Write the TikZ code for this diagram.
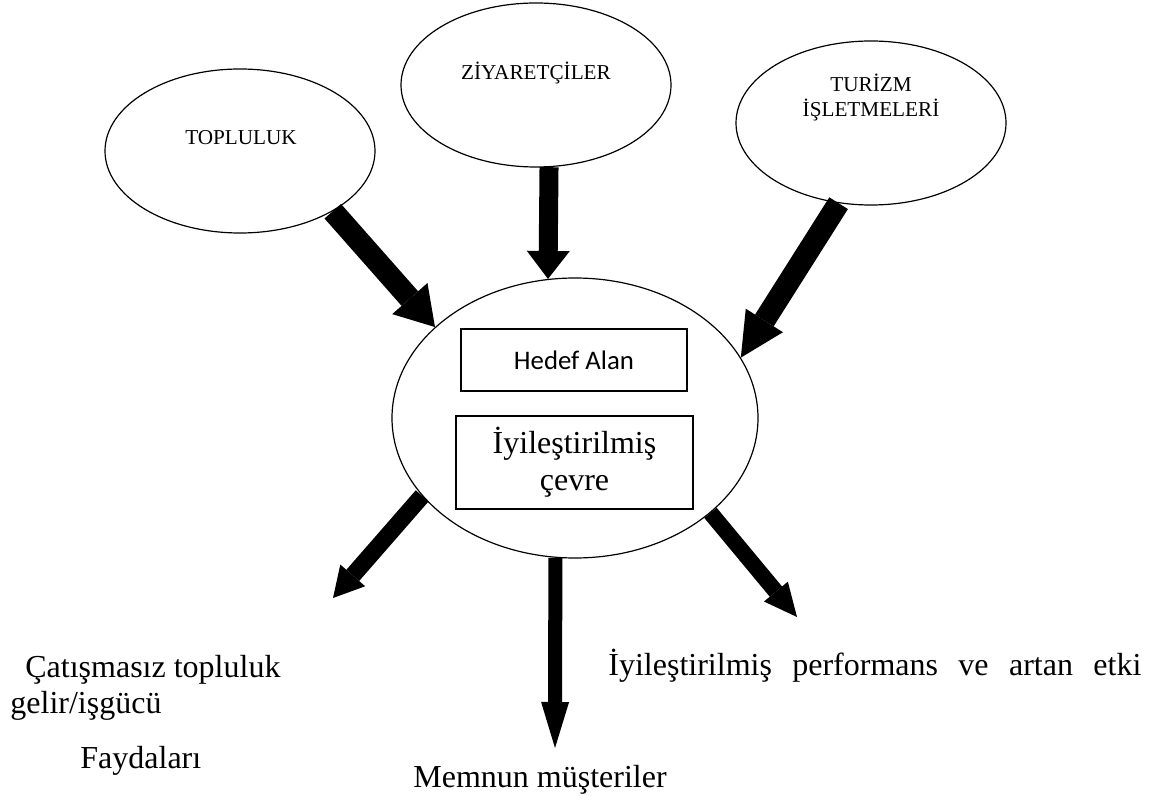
\documentclass[tikz,border=0pt]{standalone}
\usepackage{fontspec}
\setmainfont{Liberation Serif}
\newfontfamily\calibrifont{Carlito}
\usetikzlibrary{arrows.meta,shapes.geometric}

\tikzset{
  bubble/.style={draw, ellipse, line width=0.6pt, inner sep=0pt, minimum width=135pt, minimum height=82pt},
  bubbletext/.style={font=\fontsize{10.6}{12.5}\selectfont, align=center, inner sep=0pt},
  kutu/.style={draw, line width=0.8pt, inner sep=0pt, align=center},
  sonuc/.style={font=\fontsize{16}{20}\selectfont, inner sep=0pt, anchor=base west},
  fatarrow/.style n args={3}{line width=#1, -{Triangle[width=#2, length=#3, line width=0pt]}}
}

\begin{document}
\begin{tikzpicture}[x=0.5pt, y=-0.5pt]
        \useasboundingbox (0,0) rectangle (1156,796);

        \node[bubble] (topluluk) at (240,151) {};
        \node[bubble] (ziyaretci) at (536,85) {};
        \node[bubble] (isletme) at (871,123) {};
        \node[bubbletext] (toplulukyazi) at (241,138) {TOPLULUK};
        \node[bubbletext] (ziyaretciyazi) at (536,73) {ZİYARETÇİLER};
        \node[bubbletext] (isletmeyazi) at (871,97.5) {TURİZM\\İŞLETMELERİ};

        \node[bubble, minimum width=183pt, minimum height=140pt] (merkez) at (575,418) {};
        \node[kutu, minimum width=113pt, minimum height=31pt, font=\calibrifont\fontsize{13.4}{16}\selectfont] (hedef) at (574,360) {Hedef Alan};
        \node[kutu, minimum width=118.5pt, minimum height=46.5pt, font=\fontsize{16}{18.5}\selectfont] (cevre) at (574.5,462.5) {İyileştirilmiş\\çevre};

        \draw[fatarrow={11pt}{23.5pt}{19pt}] (topluluk.-33.7) -- (merkez.147);
        \draw[fatarrow={9.5pt}{21.5pt}{14pt}] (ziyaretci.-81) -- (merkez.101);
        \draw[fatarrow={11pt}{22pt}{22pt}] (isletme.248) -- (merkez.20.1);

        \coordinate (ucsol) at (333,598);
        \coordinate (ucorta) at (555,748);
        \coordinate (ucsag) at (797,617);
        \draw[fatarrow={8.5pt}{16.5pt}{15pt}] (merkez.207) -- (ucsol);
        \draw[fatarrow={7pt}{14pt}{23pt}] (merkez.262) -- (ucorta);
        \draw[fatarrow={8pt}{15.5pt}{16.5pt}] (merkez.-35) -- (ucsag);

        \node[sonuc] (catisma) at (25,677) {Çatışmasız topluluk};
        \node[sonuc] (gelir) at (10,713) {gelir/işgücü};
        \node[sonuc] (faydalari) at (80,768) {Faydaları};
        \node[sonuc] (memnun) at (413,787) {Memnun müşteriler};
        \node[sonuc] (performans) at (608,675) {\makebox[266.5pt][s]{İyileştirilmiş performans ve artan etki}};
    \end{tikzpicture}
\end{document}
